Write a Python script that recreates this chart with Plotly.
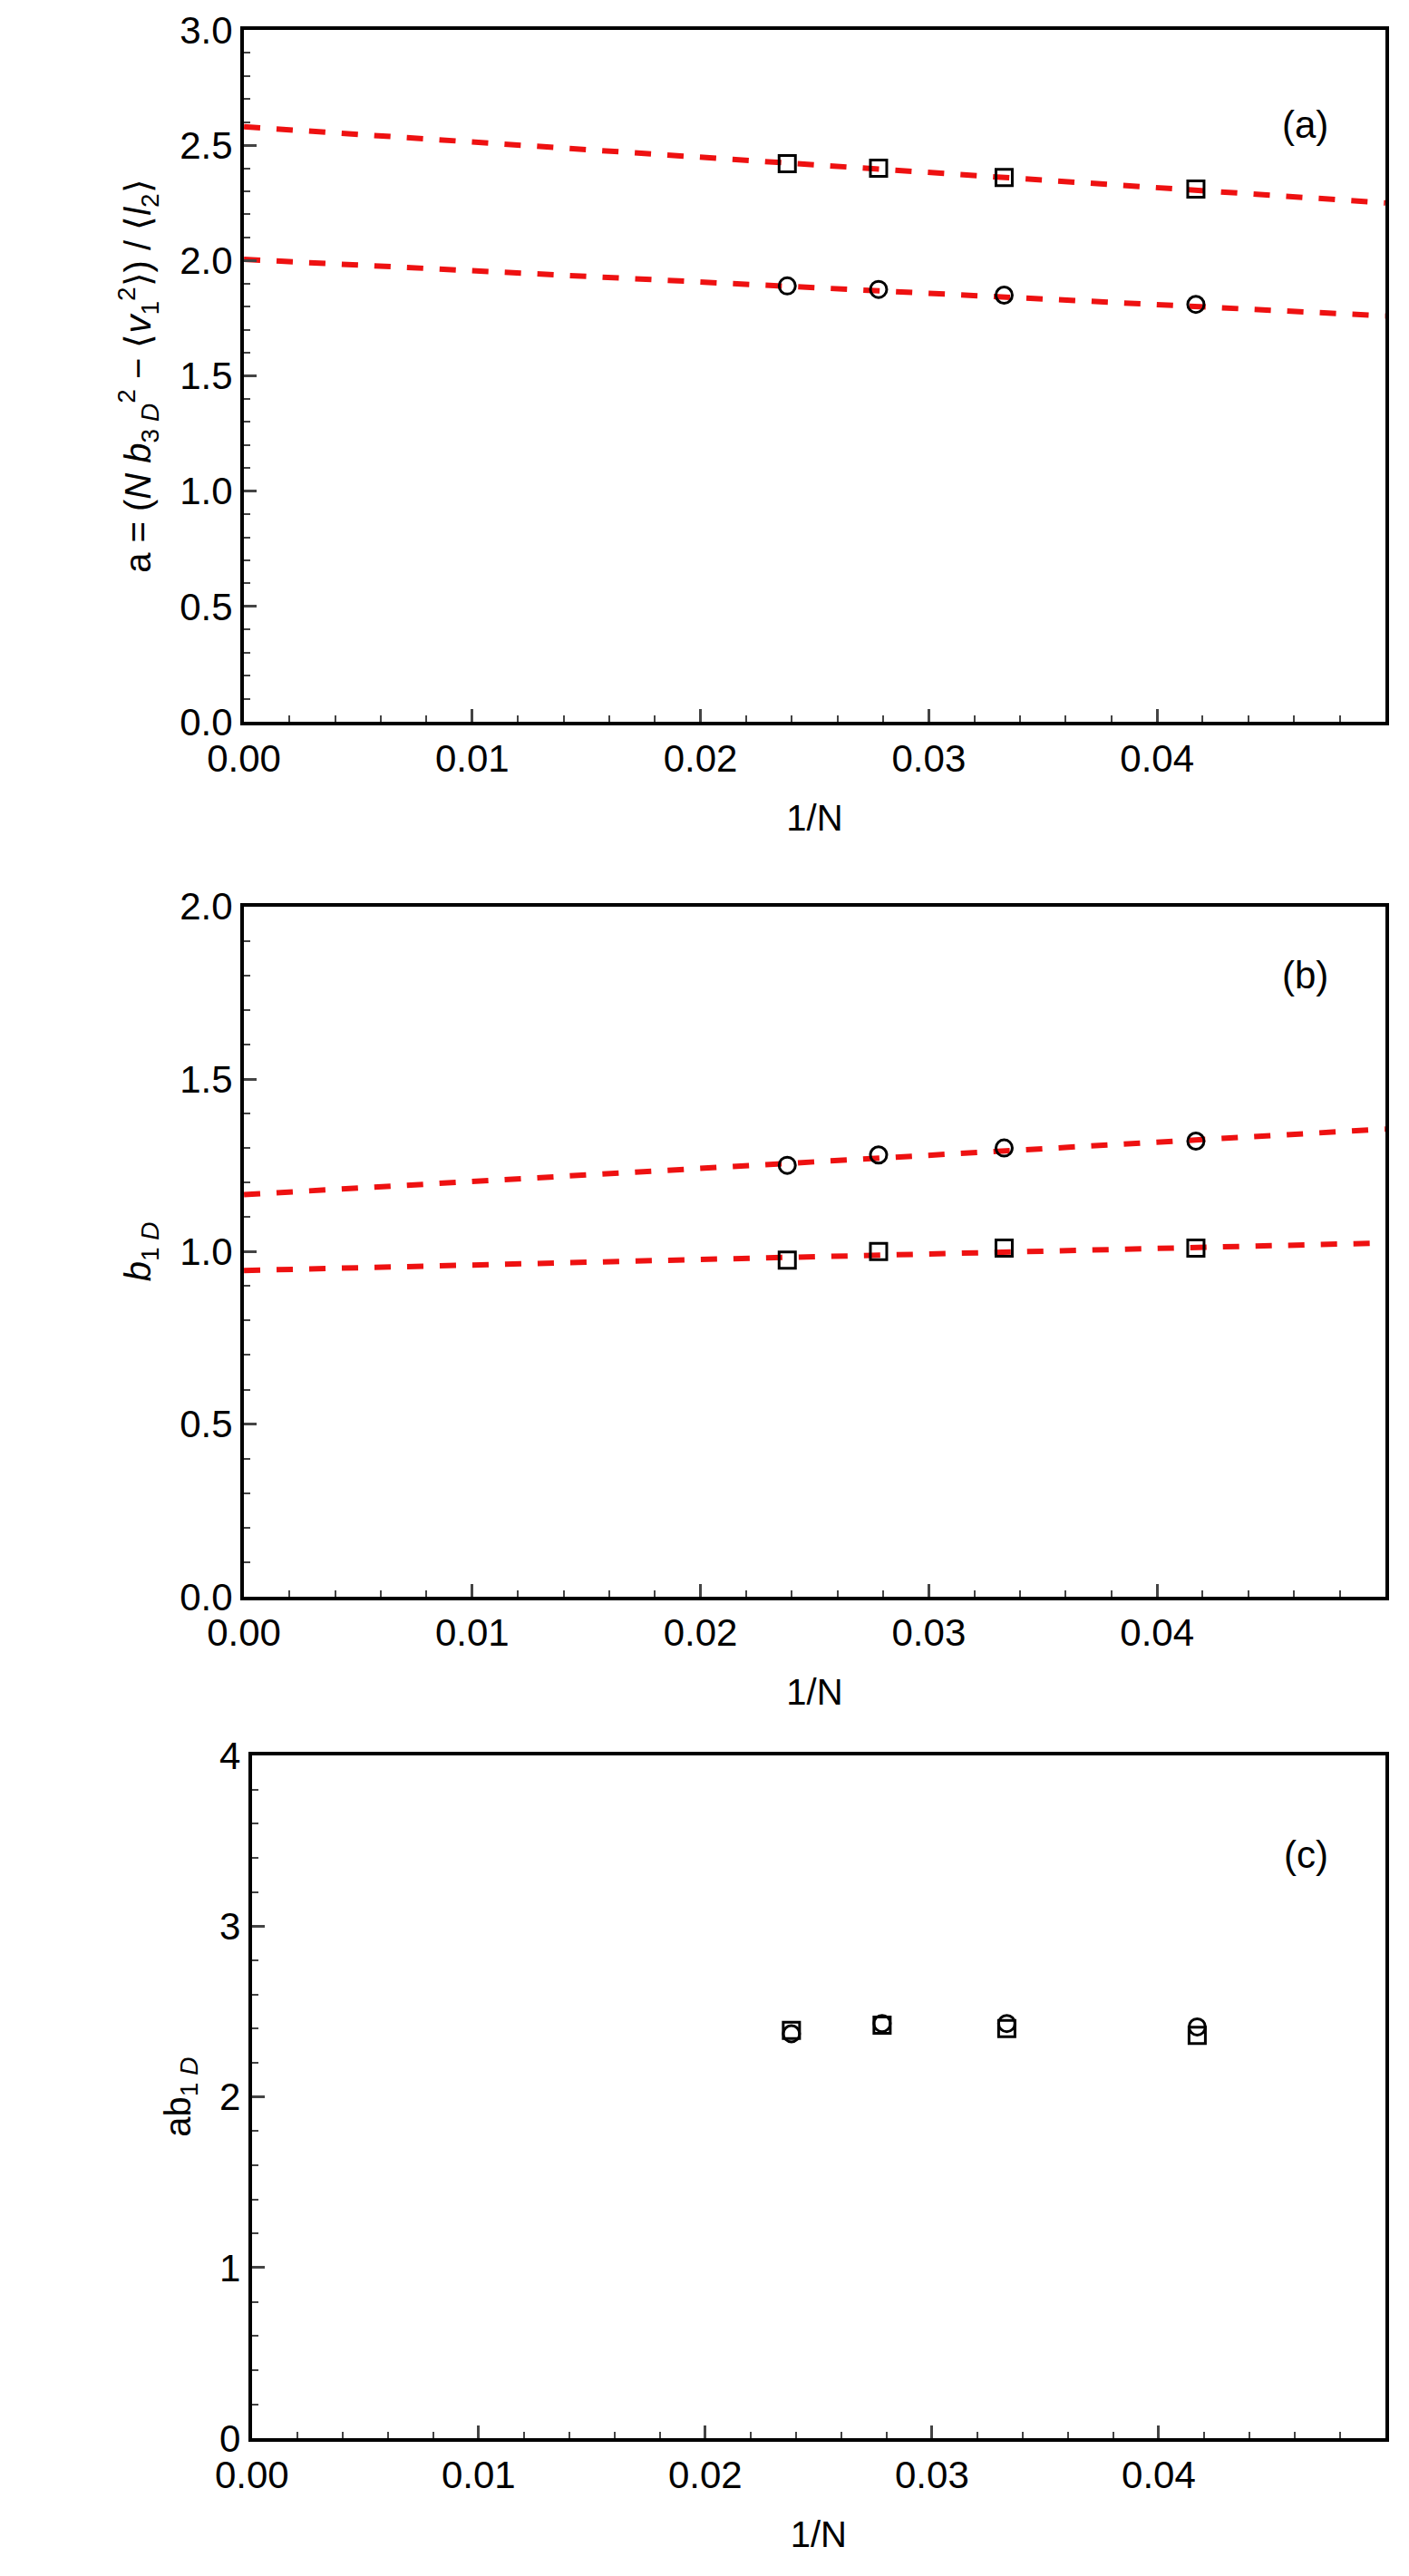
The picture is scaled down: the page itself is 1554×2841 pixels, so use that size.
import plotly.graph_objects as go

invN = [0.0238, 0.0278, 0.0333, 0.0417]
fit_x = [0.0, 0.05]

a_sq = [2.42, 2.40, 2.36, 2.31]
a_ci = [1.89, 1.875, 1.85, 1.81]
a_fit_sq = [2.58, 2.25]
a_fit_ci = [2.005, 1.76]

b_ci = [1.25, 1.28, 1.30, 1.32]
b_sq = [0.975, 1.0, 1.01, 1.01]
b_fit_ci = [1.165, 1.355]
b_fit_sq = [0.945, 1.025]

c_ci = [2.37, 2.43, 2.43, 2.41]
c_sq = [2.39, 2.42, 2.40, 2.36]

W, H = 1554, 2841
fig = go.Figure()
FONT = "Liberation Sans"
panels = [
    dict(y0=2, y1=778, x0=226, rng=[0, 3], dt=0.5, fmt=".1f",
         title="a = (<i>N b</i><sub>3 <i>D</i></sub><sup>2</sup> − ⟨<i>v</i><sub>1</sub><sup>2</sup>⟩) / ⟨<i>l</i><sub>2</sub>⟩",
         lab="(a)", laby=2.59,
         series=[(a_sq, "square-open"), (a_ci, "circle-open")], fits=[a_fit_sq, a_fit_ci]),
    dict(y0=985, y1=1759, x0=226, rng=[0, 2], dt=0.5, fmt=".1f",
         title="<i>b</i><sub>1 <i>D</i></sub>", lab="(b)", laby=1.8,
         series=[(b_ci, "circle-open"), (b_sq, "square-open")], fits=[b_fit_ci, b_fit_sq]),
    dict(y0=1937, y1=2703, x0=235, rng=[0, 4], dt=1, fmt="d",
         title="ab<sub>1 <i>D</i></sub>", lab="(c)", laby=3.42,
         series=[(c_ci, "circle-open"), (c_sq, "square-open")], fits=[]),
]
x1 = 1519
for i, p in enumerate(panels, start=1):
    xa, ya = f"x{i}", f"y{i}"
    xk, yk = ("xaxis" if i == 1 else f"xaxis{i}"), ("yaxis" if i == 1 else f"yaxis{i}")
    for f in p["fits"]:
        fig.add_trace(go.Scatter(x=fit_x, y=f, mode="lines", xaxis=xa, yaxis=ya,
                                 line=dict(color="#ee1111", width=6, dash="dash"), showlegend=False))
    for s, sym in p["series"]:
        fig.add_trace(go.Scatter(x=invN, y=s, mode="markers", xaxis=xa, yaxis=ya,
                                 marker=dict(symbol=sym, size=18, color="black", line=dict(width=3, color="black")),
                                 showlegend=False))
    common = dict(showline=True, linecolor="black", linewidth=4, mirror=True, ticks="inside",
                  ticklen=14, tickwidth=3, showgrid=False, zeroline=False,
                  tickfont=dict(family=FONT, size=42, color="black"),
                  minor=dict(ticks="inside", ticklen=7, tickwidth=2, nticks=5))
    fig.layout[xk] = dict(common, range=[0, 0.05], dtick=0.01, tickformat=".2f",
                          domain=[p["x0"] / W, x1 / W], anchor=ya,
                          title=dict(text="1/N", font=dict(family=FONT, size=40, color="black"), standoff=30))
    fig.layout[yk] = dict(common, range=p["rng"], dtick=p["dt"], tickformat=p["fmt"],
                          domain=[1 - p["y1"] / H, 1 - p["y0"] / H], anchor=xa,
                          title=dict(text=p["title"], font=dict(family=FONT, size=40, color="black"), standoff=20))
    fig.add_annotation(x=0.0465, y=p["laby"], xref=xa, yref=ya, text=p["lab"], showarrow=False,
                       font=dict(family=FONT, size=42, color="black"))

fig.update_layout(width=W, height=H, margin=dict(l=0, r=0, t=0, b=0),
                  plot_bgcolor="white", paper_bgcolor="white")
fig.write_html("out.html")
